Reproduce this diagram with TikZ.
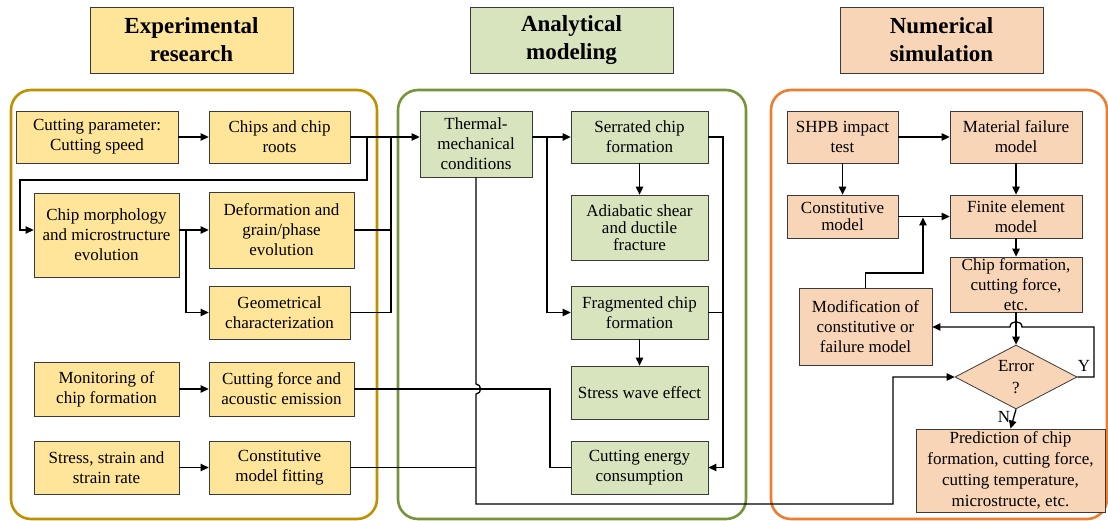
\documentclass[tikz,border=0pt]{standalone}
\usepackage{fontspec}
\setmainfont{Liberation Serif}
\usetikzlibrary{arrows.meta,shapes.geometric}
\definecolor{yel}{HTML}{FFE599}
\definecolor{grn}{HTML}{D7E4BD}
\definecolor{pch}{HTML}{F9D5B7}
\definecolor{pgold}{HTML}{BF9000}
\definecolor{pgreen}{HTML}{77933C}
\definecolor{porange}{HTML}{ED7D31}
\definecolor{bd}{HTML}{3A3A3A}
\begin{document}
\begin{tikzpicture}[x=1pt,y=-1pt,
  box/.style={draw=bd, line width=0.8pt, inner sep=0pt, align=center, font=\fontsize{17}{20}\selectfont},
  tight/.style={font=\fontsize{17}{17}\selectfont},
  head/.style={draw=bd, line width=0.8pt, inner sep=0pt, align=center, font=\bfseries\fontsize{23}{28}\selectfont, minimum width=203pt, minimum height=66pt},
  panel/.style={line width=2.6pt, rounded corners=20pt},
  conn/.style={line width=1.3pt, black},
  arr/.style={conn, -{Triangle[length=8pt,width=7.5pt]}},
  lbl/.style={font=\fontsize{17}{20}\selectfont, inner sep=0pt}]
\useasboundingbox (0,0) rectangle (1108,521);
% panels
\draw[panel, draw=pgold] (11,90) rectangle (377,519);
\draw[panel, draw=pgreen] (398,90) rectangle (746,519);
\draw[panel, draw=porange] (771,90) rectangle (1107,519);
% headers
\node[head, fill=yel] (h1) at (191.5,40) {Experimental\\research};
\node[head, fill=grn] (h2) at (571.5,40) {Analytical\\modeling};
\node[head, fill=pch] (h3) at (941.5,40) {Numerical\\simulation};
% left boxes
\node[box, fill=yel, minimum width=162pt, minimum height=52pt] (cp) at (97,137) {Cutting parameter:\\Cutting speed};
\node[box, fill=yel, minimum width=141pt, minimum height=52pt] (cr) at (279.5,137) {Chips and chip\\roots};
\node[box, fill=yel, minimum width=145pt, minimum height=84pt] (cm) at (106.5,235) {Chip morphology\\and microstructure\\evolution};
\node[box, fill=yel, minimum width=145pt, minimum height=76pt] (de) at (281.5,230) {Deformation and\\grain/phase\\evolution};
\node[box, fill=yel, minimum width=141pt, minimum height=53pt] (ge) at (279.5,312.5) {Geometrical\\characterization};
\node[box, fill=yel, minimum width=145pt, minimum height=54pt] (mo) at (106.5,389) {Monitoring of\\chip formation};
\node[box, fill=yel, minimum width=145pt, minimum height=54pt] (cf) at (281.5,389) {Cutting force and\\acoustic emission};
\node[box, fill=yel, minimum width=145pt, minimum height=53pt] (ss) at (106.5,467.5) {Stress, strain and\\strain rate};
\node[box, fill=yel, minimum width=141pt, minimum height=53pt] (cmf) at (279.5,467.5) {Constitutive\\model fitting};
% middle boxes
\node[box, fill=grn, minimum width=112pt, minimum height=66pt] (th) at (476,144) {Thermal-\\mechanical\\conditions};
\node[box, fill=grn, minimum width=137pt, minimum height=52pt] (se) at (639.5,137) {Serrated chip\\formation};
\node[box, tight, fill=grn, minimum width=137pt, minimum height=65pt] (ad) at (639.5,227.5) {Adiabatic shear\\and ductile\\fracture};
\node[box, fill=grn, minimum width=137pt, minimum height=53pt] (fr) at (639.5,312.5) {Fragmented chip\\formation};
\node[box, fill=grn, minimum width=137pt, minimum height=53pt] (sw) at (639.5,392.5) {Stress wave effect};
\node[box, fill=grn, minimum width=137pt, minimum height=53pt] (ce) at (639.5,467.5) {Cutting energy\\consumption};
% right boxes
\node[box, fill=pch, minimum width=111pt, minimum height=52pt] (sh) at (842.5,137) {SHPB impact\\test};
\node[box, fill=pch, minimum width=132pt, minimum height=52pt] (mf) at (1016,137) {Material failure\\model};
\node[box, tight, fill=pch, minimum width=111pt, minimum height=43pt] (cmo) at (842.5,216.5) {Constitutive\\model};
\node[box, fill=pch, minimum width=132pt, minimum height=43pt] (fe) at (1016,216.5) {Finite element\\model};
\node[box, fill=pch, minimum width=132pt, minimum height=55pt] (chf) at (1016,284.5) {Chip formation,\\cutting force,\\etc.};
\node[box, fill=pch, minimum width=133pt, minimum height=77pt] (mod) at (865.5,326.5) {Modification of\\constitutive or\\failure model};
\node[box, fill=pch, diamond, shape aspect=1.9, minimum width=122pt, minimum height=64pt, font=\fontsize{17}{22}\selectfont] (err) at (1016,377) {Error\\?};
\node[box, fill=pch, minimum width=189pt, minimum height=83pt, font=\fontsize{17}{21}\selectfont] (pr) at (1010.5,470.5) {Prediction of chip\\formation, cutting force,\\cutting temperature,\\microstructe, etc.};
% left connectors
\draw[arr] (cp.east) -- (cr.west);
\draw[arr] (cr.east) -- (th.west |- cr.east);
\draw[arr] (cr.east) -- (367,137) -- (367,180) -- (20,180) -- (20,230) -- (cm.west |- de.west);
\draw[conn] (391,137) -- (391,312.5) -- (ge.east);
\draw[conn] (de.east) -- (391,230);
\draw[arr] (cm.east |- de.west) -- (de.west);
\draw[arr] (186,230) |- (ge.west);
\draw[arr] (mo.east) -- (cf.west);
\draw[arr] (ss.east) -- (cmf.west);
\draw[conn] (cf.east) -- (550,389) -- (550,467.5) -- (ce.west);
\draw[conn] (cmf.east) -- (476,467.5);
\draw[arr] (th.south) -- (476,384) .. controls (482,384) and (482,394) .. (476,394) -- (476,504) -- (893,504) -- (893,377) -- (err.west);
% middle connectors
\draw[arr] (th.east |- se.west) -- (se.west);
\draw[arr] (547,137) |- (fr.west);
\draw[arr] (se.south) -- (ad.north);
\draw[arr] (fr.south) -- (sw.north);
\draw[arr] (se.east) -- (723,137) -- (723,467.5) -- (ce.east);
\draw[conn] (fr.east) -- (723,312.5);
% right connectors
\draw[arr] (sh.east) -- (mf.west);
\draw[arr] (sh.south) -- (cmo.north);
\draw[arr] (mf.south) -- (fe.north);
\draw[arr] (cmo.east) -- (fe.west);
\draw[arr] (mod.north) -- (865.5,273) -- (923,273) -- (923,217.5);
\draw[arr] (fe.south) -- (chf.north);
\draw[arr] (chf.south) -- (err.north);
\draw[arr] (err.east) -- (1094,377) -- (1094,327) -- (1022,327) .. controls (1022,320) and (1010,320) .. (1010,327) -- (mod.east |- 0,327);
\draw[arr] (err.south) -- (pr.north);
\node[lbl] (ylab) at (1084,366) {Y};
\node[lbl] (nlab) at (1004,417) {N};
\end{tikzpicture}
\end{document}
